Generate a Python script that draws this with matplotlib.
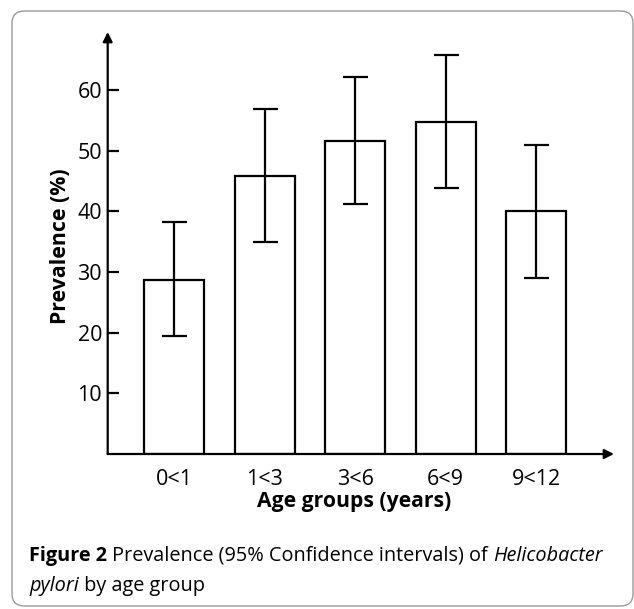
import matplotlib
matplotlib.use("Agg")
import matplotlib.pyplot as plt
from matplotlib.patches import FancyBboxPatch

# data
age_groups = ["0<1", "1<3", "3<6", "6<9", "9<12"]
prevalence = [28.7, 45.9, 51.6, 54.7, 40.0]
ci_low = [19.4, 34.9, 41.3, 43.8, 29.0]
ci_high = [38.3, 56.9, 62.1, 65.8, 50.9]
y_ticks = [10, 20, 30, 40, 50, 60]

plt.rcParams["font.family"] = ["Open Sans", "DejaVu Sans"]

W, H = 634, 609
fig = plt.figure(figsize=(W / 100, H / 100), dpi=100)

# rounded frame around the figure
frame = FancyBboxPatch((12 / W, 1 - 606 / H), 621 / W, 595 / H,
                       boxstyle="round,pad=0,rounding_size=0.02",
                       transform=fig.transFigure, fill=False,
                       edgecolor="#9a9a9a", linewidth=1.0)
fig.patches.append(frame)

ax = fig.add_axes([107.7 / W, 1 - 454 / H, (614 - 107.7) / W, (454 - 32) / H])
x = list(range(len(age_groups)))
err_lo = [p - l for p, l in zip(prevalence, ci_low)]
err_hi = [h - p for p, h in zip(prevalence, ci_high)]
ax.bar(x, prevalence, width=0.667, color="white", edgecolor="black",
       linewidth=1.6, zorder=2)
ax.errorbar(x, prevalence, yerr=[err_lo, err_hi], fmt="none", ecolor="black",
            elinewidth=1.6, capsize=9, capthick=1.6, zorder=3)

ax.set_xlim(-0.735, 4.86)
ax.set_ylim(0, 69.6)
for s in ax.spines.values():
    s.set_visible(False)

# axes with arrow heads
ax.annotate("", xy=(0, 1), xytext=(0, 0), xycoords="axes fraction",
            arrowprops=dict(arrowstyle="-|>", color="black", lw=1.6,
                            mutation_scale=14, shrinkA=0, shrinkB=0))
ax.annotate("", xy=(1, 0), xytext=(0, 0), xycoords="axes fraction",
            arrowprops=dict(arrowstyle="-|>", color="black", lw=1.6,
                            mutation_scale=14, shrinkA=0, shrinkB=0))

ax.set_yticks(y_ticks)
ax.set_yticklabels([str(t) for t in y_ticks])
ax.tick_params(axis="y", direction="in", length=8, width=1.6, pad=4,
               labelsize=15.5)
ax.set_xticks(x)
ax.set_xticklabels(age_groups)
ax.tick_params(axis="x", length=0, pad=11, labelsize=15.5)

fig.text(354 / W, 1 - 502 / H, "Age groups (years)", ha="center", va="center",
         fontsize=15.2, fontweight="bold")
fig.text(60.5 / W, 1 - 246 / H, "Prevalence (%)", ha="center", va="center",
         rotation=90, fontsize=15.3, fontweight="bold")

# caption with mixed styles
fig.canvas.draw()
renderer = fig.canvas.get_renderer()


def run_text(parts, x0, y0):
    xp = x0
    for txt, kw in parts:
        t = fig.text(xp / W, 1 - y0 / H, txt, ha="left", va="baseline",
                     fontsize=14.3, **kw)
        bb = t.get_window_extent(renderer=renderer)
        xp += bb.width


run_text([("Figure 2 ", dict(fontweight="bold")),
          ("Prevalence (95% Confidence intervals) of ", {}),
          ("Helicobacter", dict(style="italic"))], 29, 561)
run_text([("pylori", dict(style="italic")),
          (" by age group", {})], 29, 591)

fig.savefig("out.png", dpi=100)
